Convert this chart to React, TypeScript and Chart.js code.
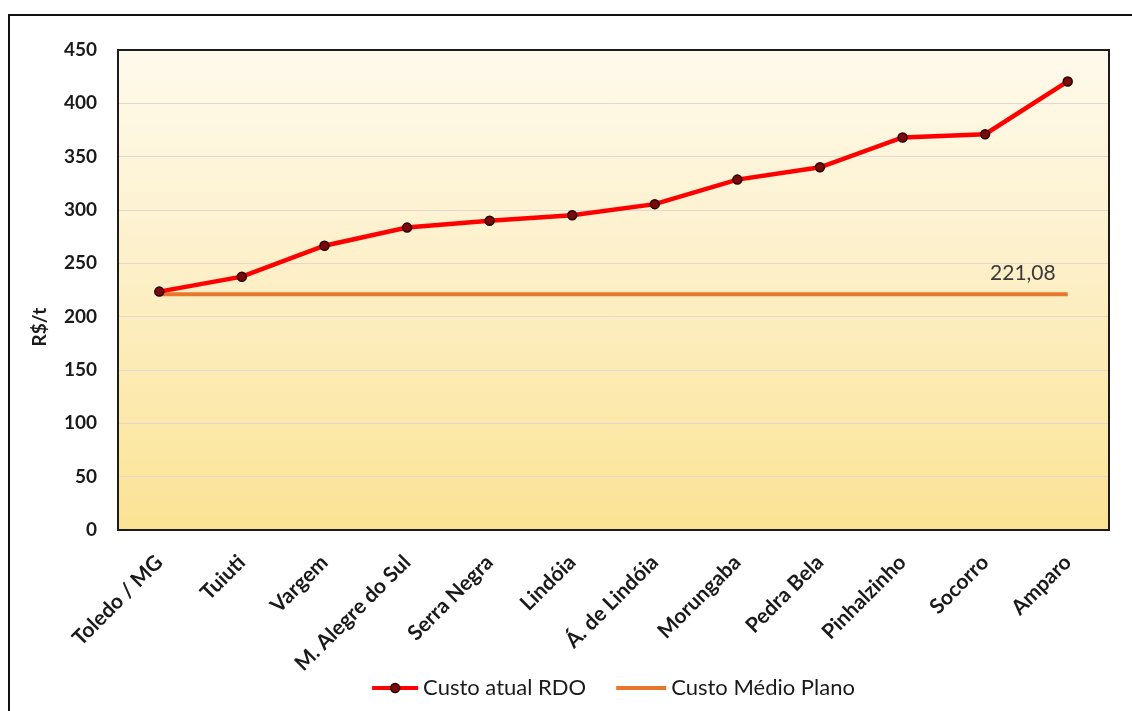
import { useEffect, useRef } from "react";
import { Chart, registerables } from "chart.js";

Chart.register(...registerables);

// Municípios (eixo X), ordenados pelo custo atual
const municipios = [
  "Toledo / MG",
  "Tuiuti",
  "Vargem",
  "M. Alegre do Sul",
  "Serra Negra",
  "Lindóia",
  "Á. de Lindóia",
  "Morungaba",
  "Pedra Bela",
  "Pinhalzinho",
  "Socorro",
  "Amparo",
];

// Custo atual RDO em R$/t
const custoAtualRDO = [223.5, 237.5, 266.5, 283.5, 290, 295, 305.5, 328.5, 340, 368, 371, 420.5];

// Custo médio do plano (R$/t), uma linha horizontal
const custoMedioPlano = 221.08;

// Escala do eixo Y
const yMin = 0;
const yMax = 450;
const yStep = 50;

// Legenda
const legendItems = [
  { text: "Custo atual RDO", color: "#ff0000", marker: true, swatch: 46 },
  { text: "Custo Médio Plano", color: "#e8772e", marker: false, swatch: 50 },
];

const FONT = "Lato, 'Open Sans', sans-serif";

const plotBackground = {
  id: "plotBackground",
  beforeDraw(chart: any) {
    const { ctx, chartArea: a } = chart;
    const g = ctx.createLinearGradient(0, a.top, 0, a.bottom);
    g.addColorStop(0, "#fefaec");
    g.addColorStop(0.45, "#fdf0c9");
    g.addColorStop(1, "#fbe394");
    ctx.save();
    ctx.fillStyle = g;
    ctx.fillRect(a.left, a.top, a.right - a.left, a.bottom - a.top);
    ctx.restore();
  },
};

const plotFrame = {
  id: "plotFrame",
  beforeDatasetsDraw(chart: any) {
    const { ctx, chartArea: a } = chart;
    ctx.save();
    ctx.strokeStyle = "#1c1c1c";
    ctx.lineWidth = 2;
    ctx.strokeRect(a.left, a.top, a.right - a.left, a.bottom - a.top);
    ctx.restore();
  },
};

const yAxisTitle = {
  id: "yAxisTitle",
  afterDraw(chart: any) {
    const { ctx } = chart;
    ctx.save();
    ctx.translate(40, 327);
    ctx.rotate(-Math.PI / 2);
    ctx.font = `bold 19px ${FONT}`;
    ctx.fillStyle = "#1a1a1a";
    ctx.textAlign = "center";
    ctx.textBaseline = "middle";
    ctx.fillText("R$/t", 0, 0);
    ctx.restore();
  },
};

const averageLabel = {
  id: "averageLabel",
  afterDatasetsDraw(chart: any) {
    const meta = chart.getDatasetMeta(1);
    const last = meta.data[meta.data.length - 1];
    if (!last) return;
    const ctx = chart.ctx;
    ctx.save();
    ctx.font = `21px ${FONT}`;
    ctx.fillStyle = "#3a3a3a";
    ctx.textAlign = "right";
    ctx.textBaseline = "bottom";
    ctx.fillText(custoMedioPlano.toFixed(2).replace(".", ","), last.x - 12, last.y - 10);
    ctx.restore();
  },
};

// Legenda desenhada abaixo dos rótulos: linha (com marcador) + texto
const bottomLegend = {
  id: "bottomLegend",
  afterDraw(chart: any) {
    const { ctx, chartArea: a } = chart;
    const y = 688;
    const gapText = 5;
    const gapItem = 30;
    ctx.save();
    ctx.font = `22px ${FONT}`;
    const widths = legendItems.map((it) => it.swatch + gapText + ctx.measureText(it.text).width);
    const total = widths.reduce((s, w) => s + w, 0) + gapItem * (legendItems.length - 1);
    let x = (a.left + a.right) / 2 - total / 2;
    legendItems.forEach((it, i) => {
      ctx.strokeStyle = it.color;
      ctx.lineWidth = 4;
      ctx.beginPath();
      ctx.moveTo(x, y);
      ctx.lineTo(x + it.swatch, y);
      ctx.stroke();
      if (it.marker) {
        ctx.beginPath();
        ctx.arc(x + it.swatch / 2, y, 4.5, 0, Math.PI * 2);
        ctx.fillStyle = "#7a0a0a";
        ctx.fill();
        ctx.lineWidth = 1.5;
        ctx.strokeStyle = "#2a0000";
        ctx.stroke();
      }
      ctx.fillStyle = "#1a1a1a";
      ctx.textAlign = "left";
      ctx.textBaseline = "middle";
      ctx.fillText(it.text, x + it.swatch + gapText, y);
      x += widths[i] + gapItem;
    });
    ctx.restore();
  },
};

export default function App() {
  const canvasRef = useRef<HTMLCanvasElement | null>(null);

  useEffect(() => {
    document.body.style.overflow = "hidden";
    const canvas = canvasRef.current;
    if (!canvas) return;

    const chart = new Chart(canvas, {
      type: "line",
      data: {
        labels: municipios,
        datasets: [
          {
            label: legendItems[0].text,
            data: custoAtualRDO,
            borderColor: "#ff0000",
            borderWidth: 4.5,
            tension: 0,
            pointRadius: 4.5,
            pointBackgroundColor: "#7a0a0a",
            pointBorderColor: "#2a0000",
            pointBorderWidth: 1.5,
          },
          {
            label: legendItems[1].text,
            data: municipios.map(() => custoMedioPlano),
            borderColor: "#e8772e",
            borderWidth: 4,
            tension: 0,
            pointRadius: 0,
          },
        ],
      },
      options: {
        responsive: false,
        animation: false,
        events: [],
        layout: { padding: { top: 50, right: 23, bottom: 0, left: 0 } },
        scales: {
          x: {
            offset: true,
            grid: { display: false, drawTicks: false },
            border: { display: false },
            ticks: {
              minRotation: 45,
              maxRotation: 45,
              autoSkip: false,
              padding: 20,
              color: "#1a1a1a",
              font: { family: FONT, size: 21, weight: "bold" },
            },
            afterFit(scale: any) {
              scale.height = 181;
            },
          },
          y: {
            min: yMin,
            max: yMax,
            grid: { color: "#e4d6d0", lineWidth: 1, drawTicks: false },
            border: { display: false },
            ticks: {
              stepSize: yStep,
              padding: 21,
              color: "#1a1a1a",
              font: { family: FONT, size: 19, weight: "bold" },
            },
            afterFit(scale: any) {
              scale.width = 118;
            },
          },
        },
        plugins: {
          tooltip: { enabled: false },
          legend: { display: false },
        },
      },
      plugins: [plotBackground, plotFrame, averageLabel, yAxisTitle, bottomLegend],
    } as any);

    return () => chart.destroy();
  }, []);

  return (
    <div style={{ position: "fixed", left: 0, top: 0, width: 1132, height: 711, background: "#ffffff", overflow: "hidden" }}>
      <div
        style={{
          position: "absolute",
          left: 8,
          top: 14,
          width: 1124,
          height: 697,
          borderTop: "2px solid #111",
          borderLeft: "2px solid #111",
          boxSizing: "border-box",
        }}
      />
      <canvas ref={canvasRef} width={1132} height={711} style={{ position: "absolute", left: 0, top: 0 }} />
    </div>
  );
}
